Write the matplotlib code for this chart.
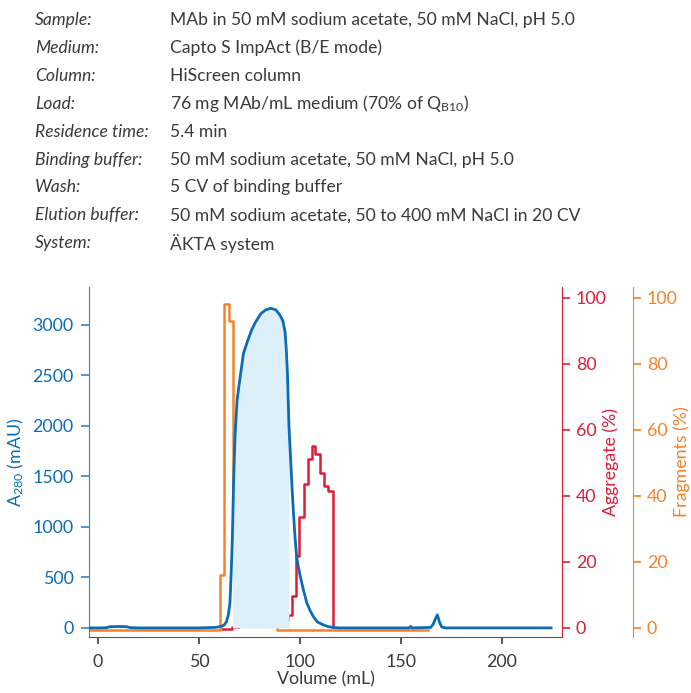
import numpy as np
import matplotlib
matplotlib.use("Agg")
import matplotlib.pyplot as plt

plt.rcParams['font.family'] = ['Lato', 'DejaVu Sans']
plt.rcParams['mathtext.default'] = 'regular'

# header table
info_labels = ['Sample:', 'Medium:', 'Column:', 'Load:', 'Residence time:',
               'Binding buffer:', 'Wash:', 'Elution buffer:', 'System:']
info_values = ['MAb in 50 mM sodium acetate, 50 mM NaCl, pH 5.0',
               'Capto S ImpAct (B/E mode)',
               'HiScreen column',
               r'76 mg MAb/mL medium (70% of Q$_{\mathregular{B10}}$)',
               '5.4 min',
               '50 mM sodium acetate, 50 mM NaCl, pH 5.0',
               '5 CV of binding buffer',
               '50 mM sodium acetate, 50 to 400 mM NaCl in 20 CV',
               'ÄKTA system']

# A280 trace (mL, mAU)
vol = [-4.5, 0, 4, 6, 10, 14, 16, 20, 50, 58, 61, 62.5, 63.5, 64.5, 65.3, 66.0,
       66.5, 67.1, 67.8, 68.8, 70.3, 72, 74, 76, 78, 80.5, 83, 85.5, 88, 90,
       91.5, 92.6, 93.2, 93.8, 94.5, 95, 96, 96.7, 97.5, 98.3, 99.2, 100, 101.5,
       103.3, 105, 106.6, 108.5, 111.5, 114, 117, 120, 154, 154.8, 155.5, 164.7,
       166, 167, 168, 169, 170.1, 172, 224.3]
a280 = [0, 0, 2, 12, 14, 12, 3, 0, 0, 5, 15, 30, 60, 130, 250, 600,
        900, 1450, 1900, 2250, 2480, 2720, 2840, 2950, 3030, 3110, 3150, 3165, 3150, 3100,
        3040, 2930, 2750, 2500, 2000, 1800, 1400, 1150, 900, 706, 600, 520, 390,
        250, 170, 112, 60, 30, 12, 3, 0, 0, 15, 0, 5,
        40, 90, 129, 60, 10, 0, 0]
pool_start, pool_end = 66.5, 94.5

# fragments (%), step edges
frag_vol = [-4.5, 60.3, 62.4, 64.7, 66.8, 68.5, 70.5, 72.4, 74.4, 76.4, 78.4,
            80.4, 82.4, 84.5, 86.6, 88.5, 163.5]
frag_pct = [-0.5, 16, 98, 93, 38.4, 26.2, 18.6, 13.6, 10, 6.5, 4.0,
            2.5, 2.1, 1.7, 1.4, -0.5, -0.5]

# aggregate (%), step edges
agg_vol = [61.2, 66.2, 70, 75, 80, 85, 88, 90.9, 92.6, 94.2, 95.9, 98, 99.7,
           101.9, 104.1, 106.1, 107.6, 109.9, 111.8, 113.7, 116.2]
agg_pct = [-0.3, 0.3, 0.6, 0.9, 1.1, 1.3, 1.5, 1.8, 2.3, 4.0, 9.6, 21.7, 33.6,
           43.5, 51.2, 55.1, 52.7, 47.0, 43.0, 41.4, 0.3]

blue = '#0b6cb5'
blue_ax = '#2f86c8'
red = '#d91e36'
orange = '#f5822a'
grey = '#3a3a3a'

fig = plt.figure(figsize=(6.91, 6.93), dpi=100)

# header
for i, (lab, val) in enumerate(zip(info_labels, info_values)):
    y = 1 - (20 + i * 27.9) / 693
    fig.text(35 / 691, y, lab, style='italic', fontsize=12.6, color=grey, va='center')
    fig.text(170 / 691, y, val, fontsize=12.6, color=grey, va='center')

ax = fig.add_axes([89 / 691, 56 / 693, 473 / 691, 350 / 693])
ax_agg = ax.twinx()
ax_frag = ax.twinx()

vol = np.array(vol)
a280 = np.array(a280)
pool = (vol >= pool_start) & (vol <= pool_end)
ax.fill_between(vol, 0, a280, where=pool, color='#ddf0fa', lw=0, zorder=1)
ax.plot(vol, a280, color=blue, lw=2, zorder=3)

ax_agg.step(agg_vol, agg_pct, where='post', color=red, lw=1.8)
ax_frag.step(frag_vol, frag_pct, where='post', color=orange, lw=1.8)

ax.set_zorder(3)
ax.patch.set_visible(False)

ax.set_xlim(-4.5, 229.7)
ax.set_ylim(-90, 3376)
ax_agg.set_ylim(-2.74, 103.3)
ax_frag.set_ylim(-2.74, 103.3)

ax.set_xticks([0, 50, 100, 150, 200])
ax.set_yticks([0, 500, 1000, 1500, 2000, 2500, 3000])
for a in (ax_agg, ax_frag):
    a.set_yticks([0, 20, 40, 60, 80, 100])

for s in ['top', 'right']:
    ax.spines[s].set_visible(False)
ax.spines['left'].set_color(blue_ax)
ax.spines['bottom'].set_color('#555555')
for a in (ax_agg, ax_frag):
    for s in ['top', 'left', 'bottom']:
        a.spines[s].set_visible(False)
ax_agg.spines['right'].set_color(red)
ax_frag.spines['right'].set_color(orange)
ax_frag.spines['right'].set_position(('outward', 51))

ax.tick_params(axis='x', colors=grey, labelsize=12.8, length=5, width=1.2, pad=7)
ax.tick_params(axis='y', colors=blue_ax, labelcolor=blue, labelsize=12.8, length=6, width=1.2, pad=5)
ax_agg.tick_params(axis='y', colors=red, labelsize=12.8, length=6, width=1.2, pad=4)
ax_frag.tick_params(axis='y', colors=orange, labelsize=12.8, length=6, width=1.2, pad=4)

ax.set_xlabel('Volume (mL)', fontsize=12.8, color=grey, labelpad=1)
ax.set_ylabel(r'A$_{280}$ (mAU)', fontsize=12.8, color=blue, labelpad=5)
ax_agg.set_ylabel('Aggregate (%)', fontsize=12.8, color=red, labelpad=-3)
ax_frag.set_ylabel('Fragments (%)', fontsize=12.8, color=orange, labelpad=-3)

fig.savefig('out.png', dpi=100)
